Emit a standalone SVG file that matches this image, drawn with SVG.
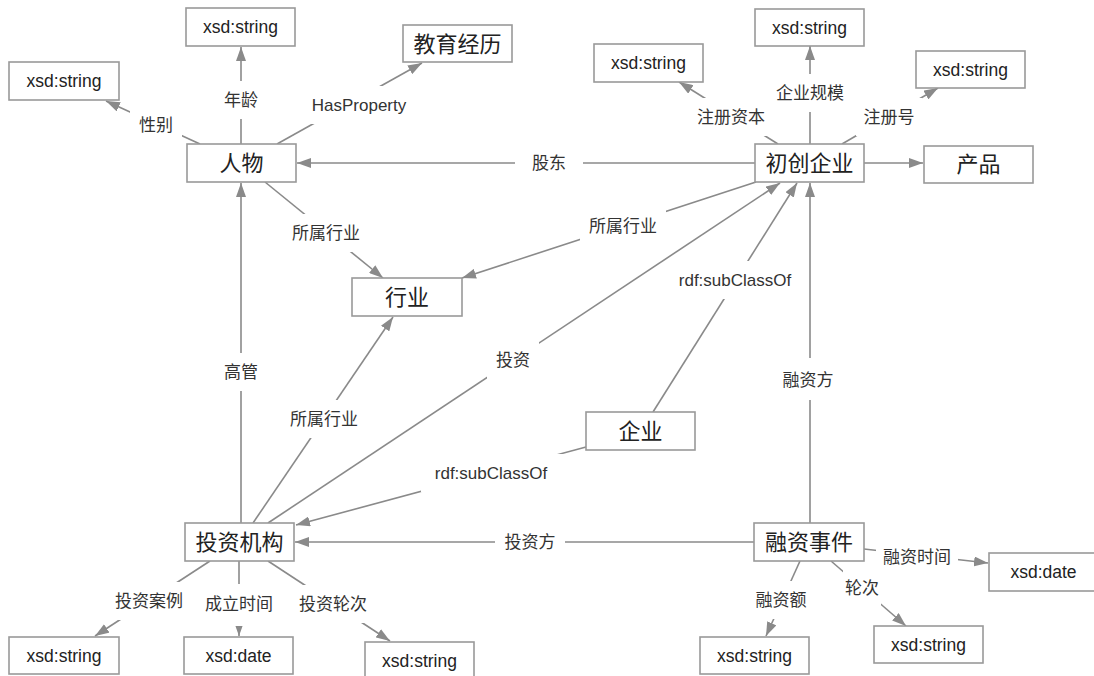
<svg xmlns="http://www.w3.org/2000/svg" width="1094" height="676" viewBox="0 0 1094 676">
<style>
  text { font-family: "Liberation Sans", "Noto Sans CJK SC", sans-serif; fill: #222; text-anchor: middle; dominant-baseline: central; }
  .box { fill: #fff; stroke: #999; stroke-width: 1.6; }
  .big { font-size: 22px; }
  .small { font-size: 17.5px; }
  .edge { stroke: #8a8a8a; stroke-width: 1.6; fill: none; marker-end: url(#arr); }
  .plain { stroke: #8a8a8a; stroke-width: 1.6; fill: none; }
  .lbg { fill: #fff; stroke: none; }
  .lbl { font-size: 17px; fill: #333; }
</style>
<defs>
  <marker id="arr" markerUnits="userSpaceOnUse" markerWidth="14" markerHeight="10" refX="14" refY="5" orient="auto">
    <path d="M0,0 L14,5 L0,10 z" fill="#8a8a8a"/>
  </marker>
</defs>
<rect width="1094" height="676" fill="#fff"/>

<g id="connectors">
  <line class="edge" x1="200" y1="144" x2="106" y2="101"/>
  <line class="edge" x1="241" y1="144" x2="241" y2="47"/>
  <line class="edge" x1="277" y1="144" x2="422" y2="63"/>
  <line class="edge" x1="755" y1="163" x2="297" y2="163"/>
  <line class="edge" x1="864" y1="163" x2="923" y2="163"/>
  <line class="edge" x1="778" y1="144" x2="679" y2="82"/>
  <line class="edge" x1="810" y1="144" x2="810" y2="46"/>
  <line class="edge" x1="842" y1="144" x2="938" y2="88"/>
  <line class="edge" x1="265" y1="182" x2="383" y2="278"/>
  <line class="edge" x1="756" y1="182" x2="462" y2="278"/>
  <line class="edge" x1="241" y1="523" x2="241" y2="183"/>
  <line class="edge" x1="253" y1="523" x2="393" y2="317"/>
  <line class="edge" x1="268" y1="523" x2="780" y2="183"/>
  <line class="edge" x1="653" y1="412" x2="797" y2="183"/>
  <line class="edge" x1="586" y1="447" x2="296" y2="525"/>
  <line class="edge" x1="810" y1="523" x2="810" y2="183"/>
  <line class="edge" x1="754" y1="542" x2="295" y2="542"/>
  <line class="edge" x1="210" y1="561" x2="95" y2="636"/>
  <line class="edge" x1="239" y1="561" x2="239" y2="636"/>
  <line class="edge" x1="268" y1="561" x2="390" y2="641"/>
  <line class="edge" x1="864" y1="549" x2="988" y2="563"/>
  <line class="edge" x1="800" y1="561" x2="766" y2="636"/>
  <line class="edge" x1="831" y1="561" x2="906" y2="626"/>

  <g id="labels">
    <rect class="lbg" x="130" y="106" width="52" height="38"/><text class="lbl" x="156" y="125">性别</text>
    <rect class="lbg" x="215" y="81" width="52" height="38"/><text class="lbl" x="241" y="100">年龄</text>
    <rect class="lbg" x="305" y="86" width="110" height="38"/><text class="lbl" x="359" y="105">HasProperty</text>
    <rect class="lbg" x="515" y="152" width="68" height="22"/><text class="lbl" x="549" y="163">股东</text>
    <rect class="lbg" x="688" y="98" width="86" height="38"/><text class="lbl" x="731" y="117">注册资本</text>
    <rect class="lbg" x="769" y="74" width="82" height="38"/><text class="lbl" x="810" y="93">企业规模</text>
    <rect class="lbg" x="856" y="98" width="66" height="38"/><text class="lbl" x="889" y="117">注册号</text>
    <rect class="lbg" x="283" y="214" width="86" height="38"/><text class="lbl" x="326" y="233">所属行业</text>
    <rect class="lbg" x="580" y="207" width="86" height="38"/><text class="lbl" x="623" y="226">所属行业</text>
    <rect class="lbg" x="215" y="353" width="52" height="38"/><text class="lbl" x="241" y="372">高管</text>
    <rect class="lbg" x="281" y="400" width="86" height="38"/><text class="lbl" x="324" y="419">所属行业</text>
    <rect class="lbg" x="487" y="341" width="52" height="38"/><text class="lbl" x="513" y="360">投资</text>
    <rect class="lbg" x="670" y="261" width="130" height="38"/><text class="lbl" x="735" y="280">rdf:subClassOf</text>
    <rect class="lbg" x="421" y="454" width="142" height="38"/><text class="lbl" x="491" y="473">rdf:subClassOf</text>
    <rect class="lbg" x="775" y="358" width="66" height="42"/><text class="lbl" x="808" y="380">融资方</text>
    <rect class="lbg" x="495" y="530" width="70" height="24"/><text class="lbl" x="530" y="542">投资方</text>
    <rect class="lbg" x="106" y="582" width="86" height="38"/><text class="lbl" x="149" y="601">投资案例</text>
    <rect class="lbg" x="196" y="584" width="86" height="42"/><text class="lbl" x="239" y="604">成立时间</text>
    <rect class="lbg" x="290" y="585" width="86" height="38"/><text class="lbl" x="333" y="604">投资轮次</text>
    <rect class="lbg" x="876" y="538" width="82" height="38"/><text class="lbl" x="917" y="557">融资时间</text>
    <rect class="lbg" x="746" y="581" width="70" height="38"/><text class="lbl" x="781" y="600">融资额</text>
    <rect class="lbg" x="843" y="569" width="38" height="38"/><text class="lbl" x="862" y="588">轮次</text>
  </g>
</g>

<g id="n-renwu"><rect class="box" x="187" y="144" width="109" height="38"/><text class="big" x="241.5" y="163">人物</text></g>
<g id="n-xsd-gender"><rect class="box" x="9" y="62" width="110" height="38"/><text class="small" x="64" y="81">xsd:string</text></g>
<g id="n-xsd-age"><rect class="box" x="186" y="8" width="109" height="38"/><text class="small" x="240.5" y="27">xsd:string</text></g>
<g id="n-jiaoyu"><rect class="box" x="403" y="25" width="109" height="37"/><text class="big" x="457.5" y="44">教育经历</text></g>
<g id="n-chuchuang"><rect class="box" x="755" y="144" width="109" height="38"/><text class="big" x="809.5" y="163">初创企业</text></g>
<g id="n-chanpin"><rect class="box" x="924" y="146" width="109" height="37"/><text class="big" x="978.5" y="164.5">产品</text></g>
<g id="n-xsd-capital"><rect class="box" x="594" y="44" width="109" height="38"/><text class="small" x="648.5" y="63">xsd:string</text></g>
<g id="n-xsd-scale"><rect class="box" x="755" y="9" width="109" height="37"/><text class="small" x="809.5" y="27.5">xsd:string</text></g>
<g id="n-xsd-regno"><rect class="box" x="916" y="51" width="109" height="37"/><text class="small" x="970.5" y="69.5">xsd:string</text></g>
<g id="n-hangye"><rect class="box" x="352" y="278" width="110" height="38"/><text class="big" x="407" y="297">行业</text></g>
<g id="n-qiye"><rect class="box" x="586" y="412" width="109" height="38"/><text class="big" x="640.5" y="431">企业</text></g>
<g id="n-touzijigou"><rect class="box" x="185" y="523" width="109" height="38"/><text class="big" x="239.5" y="542">投资机构</text></g>
<g id="n-rongzi"><rect class="box" x="754" y="523" width="110" height="38"/><text class="big" x="809" y="542">融资事件</text></g>
<g id="n-xsd-case"><rect class="box" x="9" y="637" width="110" height="37"/><text class="small" x="64" y="655.5">xsd:string</text></g>
<g id="n-xsd-found"><rect class="box" x="184" y="637" width="109" height="37"/><text class="small" x="238.5" y="655.5">xsd:date</text></g>
<g id="n-xsd-round1"><rect class="box" x="365" y="642" width="109" height="40"/><text class="small" x="419.5" y="661">xsd:string</text></g>
<g id="n-xsd-date2"><rect class="box" x="989" y="553" width="109" height="38"/><text class="small" x="1043.5" y="572">xsd:date</text></g>
<g id="n-xsd-amount"><rect class="box" x="700" y="637" width="109" height="37"/><text class="small" x="754.5" y="655.5">xsd:string</text></g>
<g id="n-xsd-round2"><rect class="box" x="874" y="626" width="109" height="37"/><text class="small" x="928.5" y="644.5">xsd:string</text></g>
</svg>
